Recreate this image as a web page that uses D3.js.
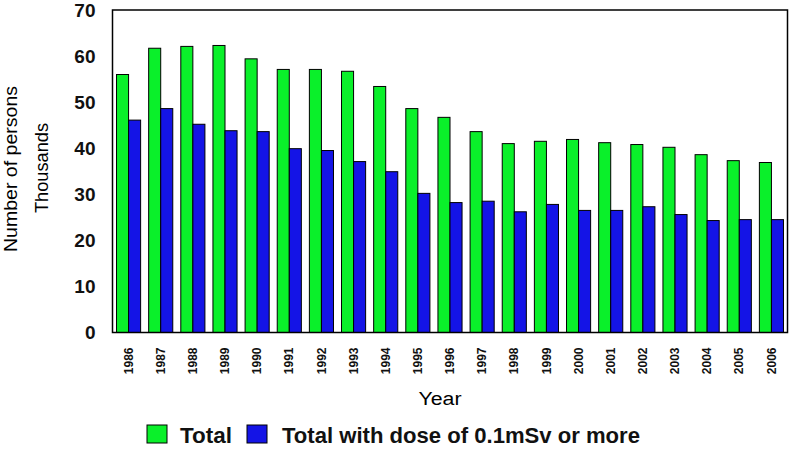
<!DOCTYPE html>
<html><head><meta charset="utf-8">
<script src="https://cdn.jsdelivr.net/npm/d3@7"></script>
<style>body{margin:0;background:#fff}svg{display:block;font-family:"Liberation Sans",Arial,sans-serif}</style>
</head><body><svg id="c" width="798" height="467"></svg>
<script>
const years = ["1986","1987","1988","1989","1990","1991","1992","1993","1994","1995","1996","1997","1998","1999","2000","2001","2002","2003","2004","2005","2006"];
const totalValues = [56,61.7,62.1,62.3,59.4,57.1,57.1,56.7,53.4,48.6,46.7,43.6,41.0,41.5,41.9,41.2,40.8,40.2,38.6,37.3,36.9];
const doseValues = [46.1,48.6,45.2,43.8,43.6,39.9,39.5,37.1,34.9,30.2,28.2,28.5,26.2,27.8,26.5,26.5,27.3,25.6,24.3,24.5,24.5];
const yTicks = [0,10,20,30,40,50,60,70];
const seriesNames = ["Total","Total with dose of 0.1mSv or more"];
const colors = ["#0af02a","#1414e6"];

const svg = d3.select("#c");
const L=112.5, R=787.5, T=10, B=332.5;
const x = d3.scaleBand().domain(years).range([L,R]).paddingInner(0.25).paddingOuter(0.125);
const sub = d3.scaleBand().domain([0,1]).range([0,x.bandwidth()]);
const y = d3.scaleLinear().domain([0,70]).range([B,T]);

const g = svg.append("g");
years.forEach((yr,i)=>{
  [totalValues[i],doseValues[i]].forEach((v,k)=>{
    g.append("rect").attr("x",x(yr)+sub(k)).attr("y",y(v)).attr("width",sub.bandwidth()).attr("height",B-y(v))
     .attr("fill",colors[k]).attr("stroke","#000").attr("stroke-width",1);
  });
});
svg.append("rect").attr("x",L).attr("y",T).attr("width",R-L).attr("height",B-T).attr("fill","none").attr("stroke","#000").attr("stroke-width",1.5);

// y axis labels
const ya = svg.append("g").attr("transform",`translate(${L},0)`).call(d3.axisLeft(y).tickValues(yTicks).tickSize(0).tickPadding(17));
ya.select(".domain").remove();
ya.selectAll("text").attr("font-size",19).attr("font-weight","bold").attr("fill","#111").attr("font-family","Liberation Sans, Arial, sans-serif");

// x axis labels
const xa = svg.append("g").attr("transform",`translate(0,${B})`).call(d3.axisBottom(x).tickSize(0));
xa.select(".domain").remove();
xa.selectAll("text").attr("font-size",12).attr("font-weight","bold").attr("fill","#111")
  .attr("font-family","Liberation Sans, Arial, sans-serif")
  .attr("transform","rotate(-90)").attr("text-anchor","end").attr("dy","0.35em").attr("dx",0).attr("y",0).attr("x",-15);

svg.append("text").attr("transform","translate(17,169) rotate(-90)").attr("text-anchor","middle").attr("font-size",18)
  .attr("textLength",166).attr("lengthAdjust","spacingAndGlyphs").text("Number of persons");
svg.append("text").attr("transform","translate(48,168) rotate(-90)").attr("text-anchor","middle").attr("font-size",18)
  .attr("textLength",90).attr("lengthAdjust","spacingAndGlyphs").text("Thousands");
svg.append("text").attr("x",440).attr("y",405).attr("text-anchor","middle").attr("font-size",18)
  .attr("textLength",43).attr("lengthAdjust","spacingAndGlyphs").text("Year");

// legend
const lg = svg.append("g");
const lx = [147,247], tx=[180,282], tl=[52,358];
seriesNames.forEach((n,k)=>{
  lg.append("rect").attr("x",lx[k]).attr("y",425).attr("width",20).attr("height",18).attr("fill",colors[k]).attr("stroke","#000").attr("stroke-width",1);
  lg.append("text").attr("x",tx[k]).attr("y",443).attr("font-size",22).attr("font-weight","bold").attr("fill","#111")
    .attr("textLength",tl[k]).attr("lengthAdjust","spacingAndGlyphs").text(n);
});
</script></body></html>
